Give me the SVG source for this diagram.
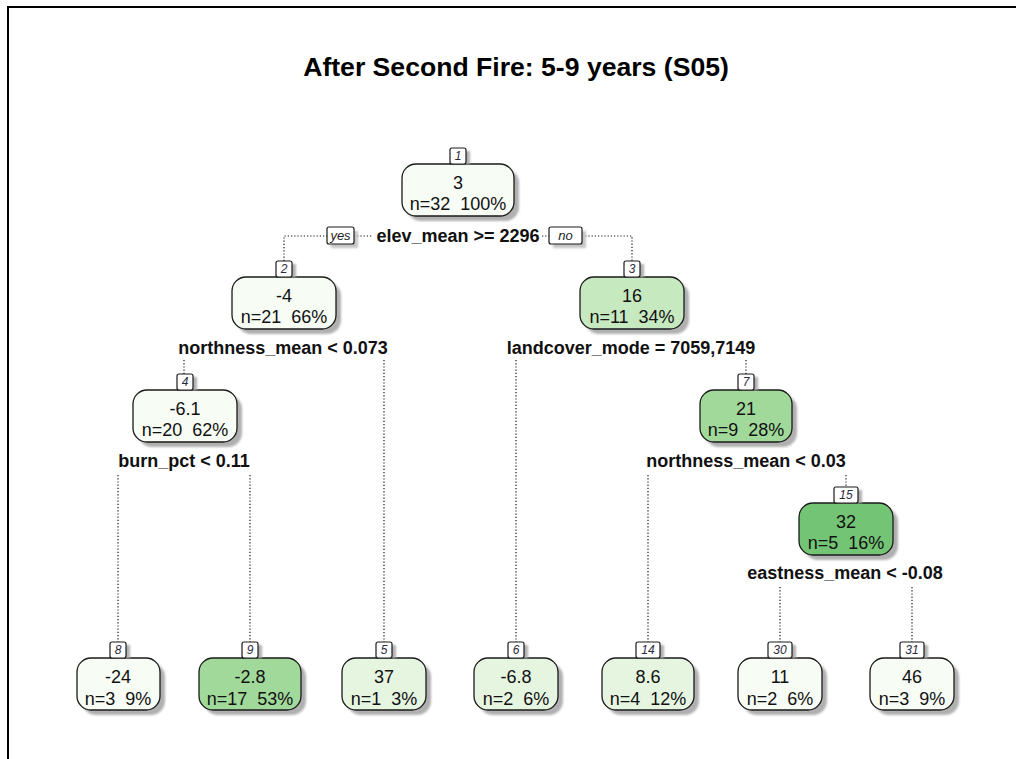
<svg xmlns="http://www.w3.org/2000/svg" width="1016" height="759" viewBox="0 0 1016 759">
  <defs>
    <filter id="soft" x="-10%" y="-10%" width="130%" height="130%">
      <feGaussianBlur stdDeviation="1.2"/>
    </filter>
  </defs>
  <style>
    .frame { stroke: #000; stroke-width: 2; fill: none; }
    .title { font-family: "Liberation Sans", Arial, sans-serif; font-weight: bold; font-size: 26.6px; fill: #000; text-anchor: middle; }
    .box { stroke: #1a1a1a; stroke-width: 1.3; }
    .shadow { fill: #b0b0b0; filter: url(#soft); }
    .numbox { fill: #fff; stroke: #1a1a1a; stroke-width: 1.2; }
    .num { font-family: "Liberation Sans", Arial, sans-serif; font-style: italic; font-size: 12px; fill: #2b2b40; text-anchor: middle; }
    .val { font-family: "Liberation Sans", Arial, sans-serif; font-size: 18px; fill: #111; text-anchor: middle; white-space: pre; }
    .split { font-family: "Liberation Sans", Arial, sans-serif; font-weight: bold; font-size: 18px; fill: #111; text-anchor: middle; }
    .yn { font-family: "Liberation Sans", Arial, sans-serif; font-style: italic; font-size: 13px; fill: #222; text-anchor: middle; }
    .dot { stroke: #111; stroke-width: 1.2; fill: none; stroke-dasharray: 1.2 2; }
    .c0 { fill: #f7fcf5; }
    .c1 { fill: #e5f5e0; }
    .c2 { fill: #c7e9c0; }
    .c3 { fill: #a1d99b; }
    .c4 { fill: #74c476; }
  </style>

  <!-- plot frame -->
  <path class="frame" d="M8 759 V7 H1016"/>

  <text class="title" x="516" y="76">After Second Fire: 5-9 years (S05)</text>

  <!-- branch lines -->
  <g id="connectors">
    <path class="dot" d="M284 261 V236 H327"/>
    <path class="dot" d="M354 236 H373"/>
    <path class="dot" d="M542 236 H549"/>
    <path class="dot" d="M582 236 H632 V261"/>
    <path class="dot" d="M184 360 V374"/>
    <path class="dot" d="M384 360 V642"/>
    <path class="dot" d="M516 360 V642"/>
    <path class="dot" d="M746 360 V374"/>
    <path class="dot" d="M118 475 V642"/>
    <path class="dot" d="M250 475 V642"/>
    <path class="dot" d="M648 475 V642"/>
    <path class="dot" d="M846 475 V487"/>
    <path class="dot" d="M780 587 V642"/>
    <path class="dot" d="M912 587 V642"/>
  </g>

  <!-- root split yes/no tags -->
  <g id="yes-no">
    <rect x="331" y="231" width="27" height="17" fill="#c4c4c4" filter="url(#soft)"/>
    <rect class="numbox" x="327" y="227" width="27" height="17" rx="2"/>
    <text class="yn" x="340.5" y="240">yes</text>
    <rect x="553" y="231" width="33" height="17" fill="#c4c4c4" filter="url(#soft)"/>
    <rect class="numbox" x="549" y="227" width="33" height="17" rx="2"/>
    <text class="yn" x="565.5" y="240">no</text>
  </g>

  <g id="node1">
    <rect class="shadow" x="407" y="169" width="112" height="52" rx="14"/>
    <rect class="box c0" x="402" y="164" width="112" height="52" rx="14"/>
    <rect class="shadow" x="454" y="151" width="16" height="13"/>
    <rect class="numbox" x="450" y="148" width="16" height="16" rx="2"/>
    <text class="num" x="458" y="160">1</text>
    <text class="val" x="458" y="189">3</text>
    <text class="val" x="458" y="210">n=32  100%</text>
    <text class="split" x="458" y="242">elev_mean &gt;= 2296</text>
  </g>

  <g id="node2">
    <rect class="shadow" x="237" y="282" width="104" height="52" rx="14"/>
    <rect class="box c0" x="232" y="277" width="104" height="52" rx="14"/>
    <rect class="shadow" x="280" y="264" width="16" height="13"/>
    <rect class="numbox" x="276" y="261" width="16" height="16" rx="2"/>
    <text class="num" x="284" y="273">2</text>
    <text class="val" x="284" y="302">-4</text>
    <text class="val" x="284" y="323">n=21  66%</text>
    <text class="split" x="283" y="354">northness_mean &lt; 0.073</text>
  </g>

  <g id="node3">
    <rect class="shadow" x="585" y="282" width="104" height="52" rx="14"/>
    <rect class="box c2" x="580" y="277" width="104" height="52" rx="14"/>
    <rect class="shadow" x="628" y="264" width="16" height="13"/>
    <rect class="numbox" x="624" y="261" width="16" height="16" rx="2"/>
    <text class="num" x="632" y="273">3</text>
    <text class="val" x="632" y="302">16</text>
    <text class="val" x="632" y="323">n=11  34%</text>
    <text class="split" x="631" y="354">landcover_mode = 7059,7149</text>
  </g>

  <g id="node4">
    <rect class="shadow" x="138" y="395" width="104" height="52" rx="14"/>
    <rect class="box c0" x="133" y="390" width="104" height="52" rx="14"/>
    <rect class="shadow" x="181" y="377" width="16" height="13"/>
    <rect class="numbox" x="177" y="374" width="16" height="16" rx="2"/>
    <text class="num" x="185" y="386">4</text>
    <text class="val" x="185" y="415">-6.1</text>
    <text class="val" x="185" y="436">n=20  62%</text>
    <text class="split" x="184" y="467">burn_pct &lt; 0.11</text>
  </g>

  <g id="node7">
    <rect class="shadow" x="705" y="395" width="92" height="52" rx="14"/>
    <rect class="box c3" x="700" y="390" width="92" height="52" rx="14"/>
    <rect class="shadow" x="742" y="377" width="16" height="13"/>
    <rect class="numbox" x="738" y="374" width="16" height="16" rx="2"/>
    <text class="num" x="746" y="386">7</text>
    <text class="val" x="746" y="415">21</text>
    <text class="val" x="746" y="436">n=9  28%</text>
    <text class="split" x="746" y="467">northness_mean &lt; 0.03</text>
  </g>

  <g id="node15">
    <rect class="shadow" x="804" y="508" width="94" height="52" rx="14"/>
    <rect class="box c4" x="799" y="503" width="94" height="52" rx="14"/>
    <rect class="shadow" x="838" y="490" width="24" height="13"/>
    <rect class="numbox" x="834" y="487" width="24" height="16" rx="2"/>
    <text class="num" x="846" y="499">15</text>
    <text class="val" x="846" y="528">32</text>
    <text class="val" x="846" y="549">n=5  16%</text>
    <text class="split" x="845" y="579">eastness_mean &lt; -0.08</text>
  </g>

  <g id="node8">
    <rect class="shadow" x="82" y="663" width="83" height="52" rx="14"/>
    <rect class="box c0" x="77" y="658" width="83" height="52" rx="14"/>
    <rect class="shadow" x="114" y="645" width="16" height="13"/>
    <rect class="numbox" x="110" y="642" width="16" height="16" rx="2"/>
    <text class="num" x="118" y="654">8</text>
    <text class="val" x="118" y="683">-24</text>
    <text class="val" x="118" y="705">n=3  9%</text>
  </g>

  <g id="node9">
    <rect class="shadow" x="204" y="663" width="102" height="52" rx="14"/>
    <rect class="box c3" x="199" y="658" width="102" height="52" rx="14"/>
    <rect class="shadow" x="246" y="645" width="16" height="13"/>
    <rect class="numbox" x="242" y="642" width="16" height="16" rx="2"/>
    <text class="num" x="250" y="654">9</text>
    <text class="val" x="250" y="683">-2.8</text>
    <text class="val" x="250" y="705">n=17  53%</text>
  </g>

  <g id="node5">
    <rect class="shadow" x="347" y="663" width="84" height="52" rx="14"/>
    <rect class="box c1" x="342" y="658" width="84" height="52" rx="14"/>
    <rect class="shadow" x="380" y="645" width="16" height="13"/>
    <rect class="numbox" x="376" y="642" width="16" height="16" rx="2"/>
    <text class="num" x="384" y="654">5</text>
    <text class="val" x="384" y="683">37</text>
    <text class="val" x="384" y="705">n=1  3%</text>
  </g>

  <g id="node6">
    <rect class="shadow" x="479" y="663" width="84" height="52" rx="14"/>
    <rect class="box c1" x="474" y="658" width="84" height="52" rx="14"/>
    <rect class="shadow" x="512" y="645" width="16" height="13"/>
    <rect class="numbox" x="508" y="642" width="16" height="16" rx="2"/>
    <text class="num" x="516" y="654">6</text>
    <text class="val" x="516" y="683">-6.8</text>
    <text class="val" x="516" y="705">n=2  6%</text>
  </g>

  <g id="node14">
    <rect class="shadow" x="607" y="663" width="92" height="52" rx="14"/>
    <rect class="box c1" x="602" y="658" width="92" height="52" rx="14"/>
    <rect class="shadow" x="640" y="645" width="24" height="13"/>
    <rect class="numbox" x="636" y="642" width="24" height="16" rx="2"/>
    <text class="num" x="648" y="654">14</text>
    <text class="val" x="648" y="683">8.6</text>
    <text class="val" x="648" y="705">n=4  12%</text>
  </g>

  <g id="node30">
    <rect class="shadow" x="743" y="663" width="84" height="52" rx="14"/>
    <rect class="box c0" x="738" y="658" width="84" height="52" rx="14"/>
    <rect class="shadow" x="772" y="645" width="24" height="13"/>
    <rect class="numbox" x="768" y="642" width="24" height="16" rx="2"/>
    <text class="num" x="780" y="654">30</text>
    <text class="val" x="780" y="683">11</text>
    <text class="val" x="780" y="705">n=2  6%</text>
  </g>

  <g id="node31">
    <rect class="shadow" x="875" y="663" width="84" height="52" rx="14"/>
    <rect class="box c0" x="870" y="658" width="84" height="52" rx="14"/>
    <rect class="shadow" x="904" y="645" width="24" height="13"/>
    <rect class="numbox" x="900" y="642" width="24" height="16" rx="2"/>
    <text class="num" x="912" y="654">31</text>
    <text class="val" x="912" y="683">46</text>
    <text class="val" x="912" y="705">n=3  9%</text>
  </g>
</svg>
